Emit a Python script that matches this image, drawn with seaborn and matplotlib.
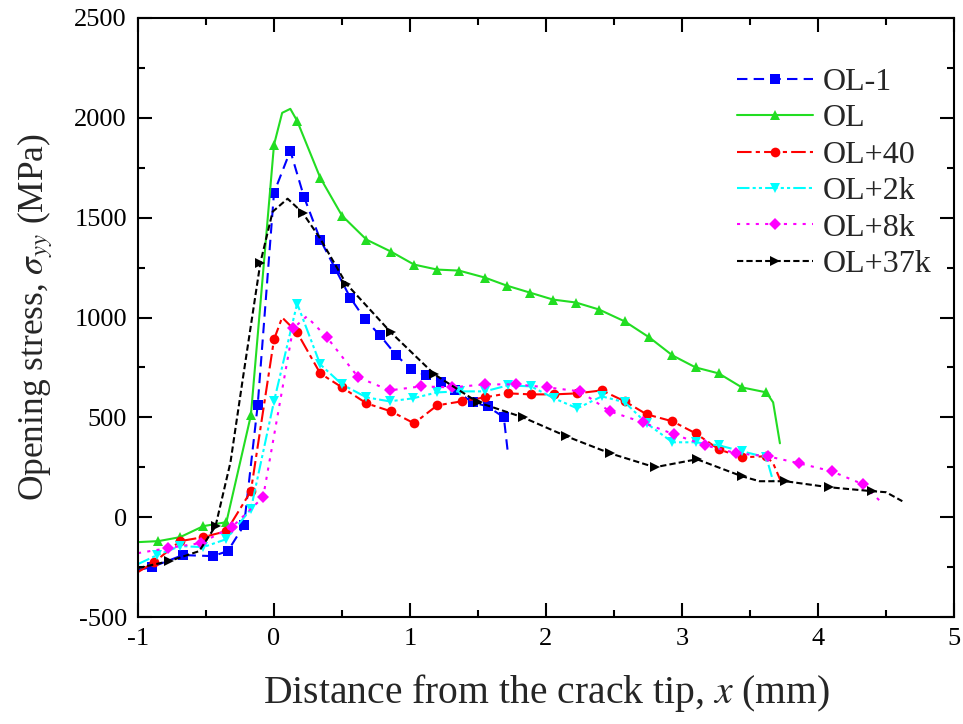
import matplotlib
matplotlib.use("Agg")
import matplotlib.pyplot as plt
from matplotlib.ticker import MultipleLocator
import seaborn as sns
import pandas as pd

# Opening stress profiles ahead of the crack tip
ol1_x = [-1.0, -0.9, -0.67, -0.45, -0.34, -0.22, -0.12, 0.0, 0.12, 0.22, 0.34, 0.45, 0.56,
         0.67, 0.78, 0.9, 1.01, 1.12, 1.23, 1.33, 1.46, 1.57, 1.69, 1.72]
ol1_y = [-265, -250, -190, -195, -170, -40, 560, 1625, 1835, 1605, 1390, 1245, 1100,
         990, 910, 810, 740, 710, 675, 635, 575, 555, 500, 320]

ol_x = [-1.0, -0.85, -0.69, -0.52, -0.35, -0.17, 0.0, 0.06, 0.12, 0.17, 0.34, 0.5, 0.68,
        0.86, 1.03, 1.2, 1.36, 1.55, 1.71, 1.88, 2.05, 2.22, 2.39, 2.58, 2.76, 2.93, 3.1,
        3.27, 3.44, 3.62, 3.67, 3.72]
ol_y = [-125, -120, -100, -45, -25, 510, 1865, 2025, 2045, 1985, 1700, 1510, 1390,
        1330, 1265, 1240, 1235, 1200, 1160, 1125, 1090, 1075, 1040, 980, 900, 810, 750,
        720, 650, 625, 575, 370]

ol40_x = [-1.0, -0.88, -0.69, -0.52, -0.35, -0.17, 0.0, 0.06, 0.17, 0.34, 0.5, 0.68, 0.86,
          1.03, 1.2, 1.38, 1.55, 1.72, 1.89, 2.06, 2.23, 2.41, 2.58, 2.74, 2.93, 3.1,
          3.27, 3.44, 3.62, 3.67, 3.73]
ol40_y = [-275, -225, -120, -100, -70, 130, 890, 1000, 925, 720, 650, 570, 530,
          470, 560, 580, 600, 620, 615, 615, 620, 635, 580, 515, 480, 420,
          340, 300, 305, 270, 175]

ol2k_x = [-1.0, -0.86, -0.69, -0.52, -0.35, -0.17, 0.0, 0.17, 0.34, 0.5, 0.68, 0.85, 1.02,
          1.2, 1.37, 1.55, 1.72, 1.89, 2.06, 2.23, 2.41, 2.58, 2.74, 2.93, 3.1, 3.27,
          3.44, 3.62, 3.67]
ol2k_y = [-235, -190, -145, -150, -110, 40, 580, 1070, 765, 665, 600, 580, 595,
          625, 630, 630, 660, 655, 595, 545, 605, 575, 470, 375, 375, 360,
          330, 300, 180]

ol8k_x = [-1.0, -0.78, -0.54, -0.31, -0.08, 0.14, 0.24, 0.39, 0.62, 0.85, 1.08, 1.31, 1.55,
          1.78, 2.01, 2.25, 2.47, 2.71, 2.94, 3.17, 3.4, 3.63, 3.86, 4.1, 4.33, 4.48]
ol8k_y = [-180, -155, -130, -50, 100, 945, 1005, 900, 700, 635, 655, 650, 665,
          665, 650, 630, 530, 475, 415, 360, 320, 305, 270, 230, 165, 65]

ol37k_x = [-1.0, -0.77, -0.55, -0.43, -0.32, -0.23, -0.1, -0.01, 0.1, 0.21, 0.34, 0.53,
           0.86, 1.18, 1.5, 1.83, 2.15, 2.47, 2.8, 3.11, 3.44, 3.57, 3.76, 4.08, 4.4,
           4.5, 4.62]
ol37k_y = [-255, -220, -170, -45, 275, 690, 1275, 1530, 1595, 1525, 1395, 1170,
           925, 715, 575, 500, 405, 320, 250, 290, 205, 180, 180, 150, 130,
           125, 80]

labels = ["OL-1", "OL", "OL+40", "OL+2k", "OL+8k", "OL+37k"]
xs = [ol1_x, ol_x, ol40_x, ol2k_x, ol8k_x, ol37k_x]
ys = [ol1_y, ol_y, ol40_y, ol2k_y, ol8k_y, ol37k_y]

df = pd.concat(
    [pd.DataFrame({"x": x, "stress": y, "case": lab}) for lab, x, y in zip(labels, xs, ys)],
    ignore_index=True,
)

styles = {
    "OL-1":   dict(color="#0000FF", ls=(0, (5, 3)), marker="s", ms=6.5,
                   markevery=list(range(1, 23))),
    "OL":     dict(color="#22DD22", ls="-", marker="^", ms=7.5,
                   markevery=[1, 2, 3, 4, 5, 6] + list(range(9, 30))),
    "OL+40":  dict(color="#FF0000", ls=(0, (7, 2, 2, 2)), marker="o", ms=7,
                   markevery=[1, 2, 3, 4, 5, 6] + list(range(8, 29))),
    "OL+2k":  dict(color="#00FFFF", ls=(0, (6, 1.5, 1.5, 1.5, 1.5, 1.5)), marker="v", ms=7.5,
                   markevery=list(range(1, 28))),
    "OL+8k":  dict(color="#FF00FF", ls=(0, (1.5, 3)), marker="D", ms=6.5,
                   markevery=[1, 2, 3, 4, 5] + list(range(7, 25))),
    "OL+37k": dict(color="#000000", ls=(0, (3, 1.5)), marker=">", ms=7.5,
                   markevery=[1, 3, 6, 9, 11, 12, 13, 14, 15, 16, 17, 18, 19, 20, 22, 23, 24]),
}

sns.set_theme(style="ticks")
plt.rcParams["font.family"] = ["Liberation Serif", "DejaVu Serif"]
plt.rcParams["mathtext.fontset"] = "stix"
plt.rcParams["axes.unicode_minus"] = False

fig = plt.figure(figsize=(9.63, 7.24), dpi=100)
ax = fig.add_axes([138 / 963, 1 - 617 / 724, (954 - 138) / 963, (617 - 18) / 724])

for lab in labels:
    st = styles[lab]
    sub = df[df["case"] == lab]
    sns.lineplot(data=sub, x="x", y="stress", ax=ax, sort=False, estimator=None,
                 color=st["color"], linestyle=st["ls"], linewidth=1.5,
                 marker=st["marker"], markersize=st["ms"], markeredgewidth=0,
                 markevery=st["markevery"], label=lab)

ax.set_xlim(-1, 5)
ax.set_ylim(-500, 2500)
ax.xaxis.set_major_locator(MultipleLocator(1))
ax.xaxis.set_minor_locator(MultipleLocator(0.5))
ax.yaxis.set_major_locator(MultipleLocator(500))
ax.yaxis.set_minor_locator(MultipleLocator(250))
ax.tick_params(which="both", direction="in", top=True, right=True, width=1.5,
               colors="black", labelsize=19, pad=8)
ax.tick_params(which="major", length=10)
ax.tick_params(which="minor", length=5)
for sp in ax.spines.values():
    sp.set_linewidth(1.5)
    sp.set_color("black")

ax.set_xlabel("Distance from the crack tip, $x$ (mm)", fontsize=28.5, labelpad=16)
ax.set_ylabel(r"Opening stress, $\sigma_{yy}$ (MPa)", fontsize=25.5, labelpad=14)

leg = ax.legend(loc="upper right", bbox_to_anchor=(1.008, 0.965), frameon=False,
                fontsize=23, handlelength=2.4, labelspacing=0.22, handletextpad=0.3)

fig.savefig("out.png", dpi=100)
